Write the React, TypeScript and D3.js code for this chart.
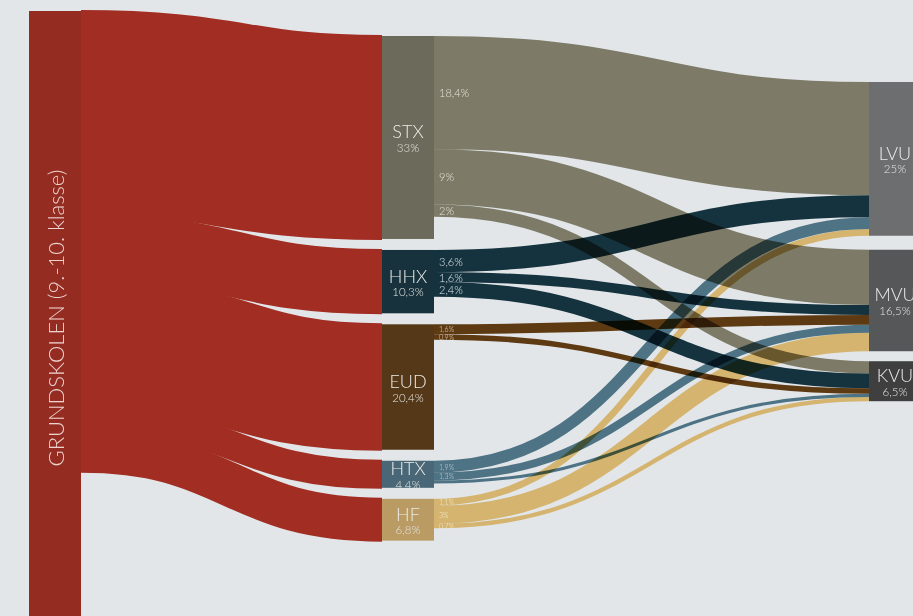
import React from 'react';
import * as d3 from 'd3';

// ---- data (percent of a cohort) ----
const sourceName = 'GRUNDSKOLEN (9.-10. klasse)';
const middleNames = ['STX', 'HHX', 'EUD', 'HTX', 'HF'];
const middleShares = [33, 10.3, 20.4, 4.4, 6.8];
const targetNames = ['LVU', 'MVU', 'KVU'];
const targetShares = [25, 16.5, 6.5];
// flows from each middle node to LVU, MVU, KVU
const flowsSTX = [18.4, 9, 2];
const flowsHHX = [3.6, 1.6, 2.4];
const flowsEUD = [0, 1.6, 0.9];
const flowsHTX = [1.9, 1.3, 0.5];
const flowsHF = [1.1, 3, 0.7];
const flows = [flowsSTX, flowsHHX, flowsEUD, flowsHTX, flowsHF];

// ---- layout / style ----
const W = 913;
const H = 616;
const nodeW = 52;
const colX = [29, 382, 869];
const colTop = [11, 36, 82];
const middleGap = 11;
const rightGaps = [14, 10];
const bg = '#e2e6e9';
const sourceNodeColor = '#952c22';
const sourceLinkColor = '#a22d22';
const nodeColors = ['#6b6a5b', '#17313d', '#553818', '#4a6777', '#b99b63'];
const linkColors = ['#7d7b68', '#15333f', '#5e3a13', '#4d7385', '#d4b46e'];
const linkLabelColors = ['#e4e2d8', '#dce3e7', '#e8d7c2', '#c9d7de', '#f6ecd4'];
const linkLabelSizes = [11, 11, 7, 7, 7];
const targetColors = ['#6d6e70', '#565759', '#3f3f3f'];
const font = 'Lato, "Open Sans", sans-serif';

const fmt = (v: number) => `${String(v).replace('.', ',')}%`;

export default function App() {
  const h = d3.scaleLinear().domain([0, 100]).range([0, 615]);
  const link = d3.linkHorizontal();

  // middle node positions
  const midY: number[] = [];
  middleShares.reduce((y, v) => {
    midY.push(y);
    return y + h(v) + middleGap;
  }, colTop[1]);

  const rightY: number[] = [];
  targetShares.reduce((y, v, i) => {
    rightY.push(y);
    return y + h(v) + (rightGaps[i] ?? 0);
  }, colTop[2]);

  // source -> middle links
  let sy = colTop[0];
  const srcLinks = middleShares.map((v, i) => {
    const w = h(v);
    const l = {
      d: link({ source: [colX[0] + nodeW, sy + w / 2], target: [colX[1], midY[i] + w / 2] } as any) as string,
      w,
    };
    sy += w;
    return l;
  });

  // middle -> right links
  const inOffset = rightY.slice();
  const midLinks: { d: string; w: number; i: number; y: number; v: number }[] = [];
  flows.forEach((fl, i) => {
    let oy = midY[i];
    fl.forEach((v, j) => {
      if (!v) return;
      const w = h(v);
      const y0 = oy + w / 2;
      const y1 = inOffset[j] + w / 2;
      midLinks.push({
        d: link({ source: [colX[1] + nodeW, y0], target: [colX[2], y1] } as any) as string,
        w,
        i,
        y: y0,
        v,
      });
      oy += w;
      inOffset[j] += w;
    });
  });

  return (
    <svg
      width={W}
      height={H}
      style={{ position: 'absolute', left: 0, top: 0, fontFamily: font }}
    >
      <rect width={W} height={H} fill={bg} />

      {/* slightly widened so neighbouring red bands merge near the source */}
      {srcLinks.map((l, i) => (
        <path key={i} d={l.d} fill="none" stroke={sourceLinkColor} strokeWidth={l.w + 2} />
      ))}

      <g style={{ isolation: 'isolate' }}>
        {midLinks.map((l, k) => (
          <path
            key={k}
            d={l.d}
            fill="none"
            stroke={linkColors[l.i]}
            strokeWidth={l.w}
            style={{ mixBlendMode: 'multiply' }}
          />
        ))}
      </g>

      {/* source node */}
      <rect x={colX[0]} y={colTop[0]} width={nodeW} height={h(100)} fill={sourceNodeColor} />
      <text
        transform={`translate(${colX[0] + nodeW / 2},${colTop[0] + 307}) rotate(-90)`}
        textAnchor="middle"
        dominantBaseline="central"
        fontSize={22}
        fontWeight={300}
        fill="#ecd3ce"
      >
        {sourceName}
      </text>

      {/* middle nodes */}
      {middleNames.map((n, i) => {
        const cy = midY[i] + h(middleShares[i]) / 2;
        return (
          <g key={n}>
            <rect x={colX[1]} y={midY[i]} width={nodeW} height={h(middleShares[i])} fill={nodeColors[i]} />
            <text x={colX[1] + nodeW / 2} y={cy - 6} textAnchor="middle" dominantBaseline="central" fontSize={18} fontWeight={300} fill="#ebebe6">
              {n}
            </text>
            <text x={colX[1] + nodeW / 2} y={cy + 10} textAnchor="middle" dominantBaseline="central" fontSize={11.5} fontWeight={300} fill="#e4e4df">
              {fmt(middleShares[i])}
            </text>
          </g>
        );
      })}

      {/* link labels */}
      {midLinks
        .filter((l) => l.v >= 0.7)
        .map((l, k) => (
          <text
            key={k}
            x={colX[1] + nodeW + 5}
            y={l.y}
            dominantBaseline="central"
            fontSize={linkLabelSizes[l.i]}
            fontWeight={300}
            fill={linkLabelColors[l.i]}
          >
            {fmt(l.v)}
          </text>
        ))}

      {/* right nodes (cut by the right edge, as in the original) */}
      {targetNames.map((n, j) => {
        const cy = rightY[j] + h(targetShares[j]) / 2;
        return (
          <g key={n}>
            <rect x={colX[2]} y={rightY[j]} width={nodeW} height={h(targetShares[j])} fill={targetColors[j]} />
            <text x={colX[2] + nodeW / 2} y={cy - 6} textAnchor="middle" dominantBaseline="central" fontSize={18} fontWeight={300} fill="#ebebeb">
              {n}
            </text>
            <text x={colX[2] + nodeW / 2} y={cy + 10} textAnchor="middle" dominantBaseline="central" fontSize={11.5} fontWeight={300} fill="#e2e2e2">
              {fmt(targetShares[j])}
            </text>
          </g>
        );
      })}
    </svg>
  );
}
